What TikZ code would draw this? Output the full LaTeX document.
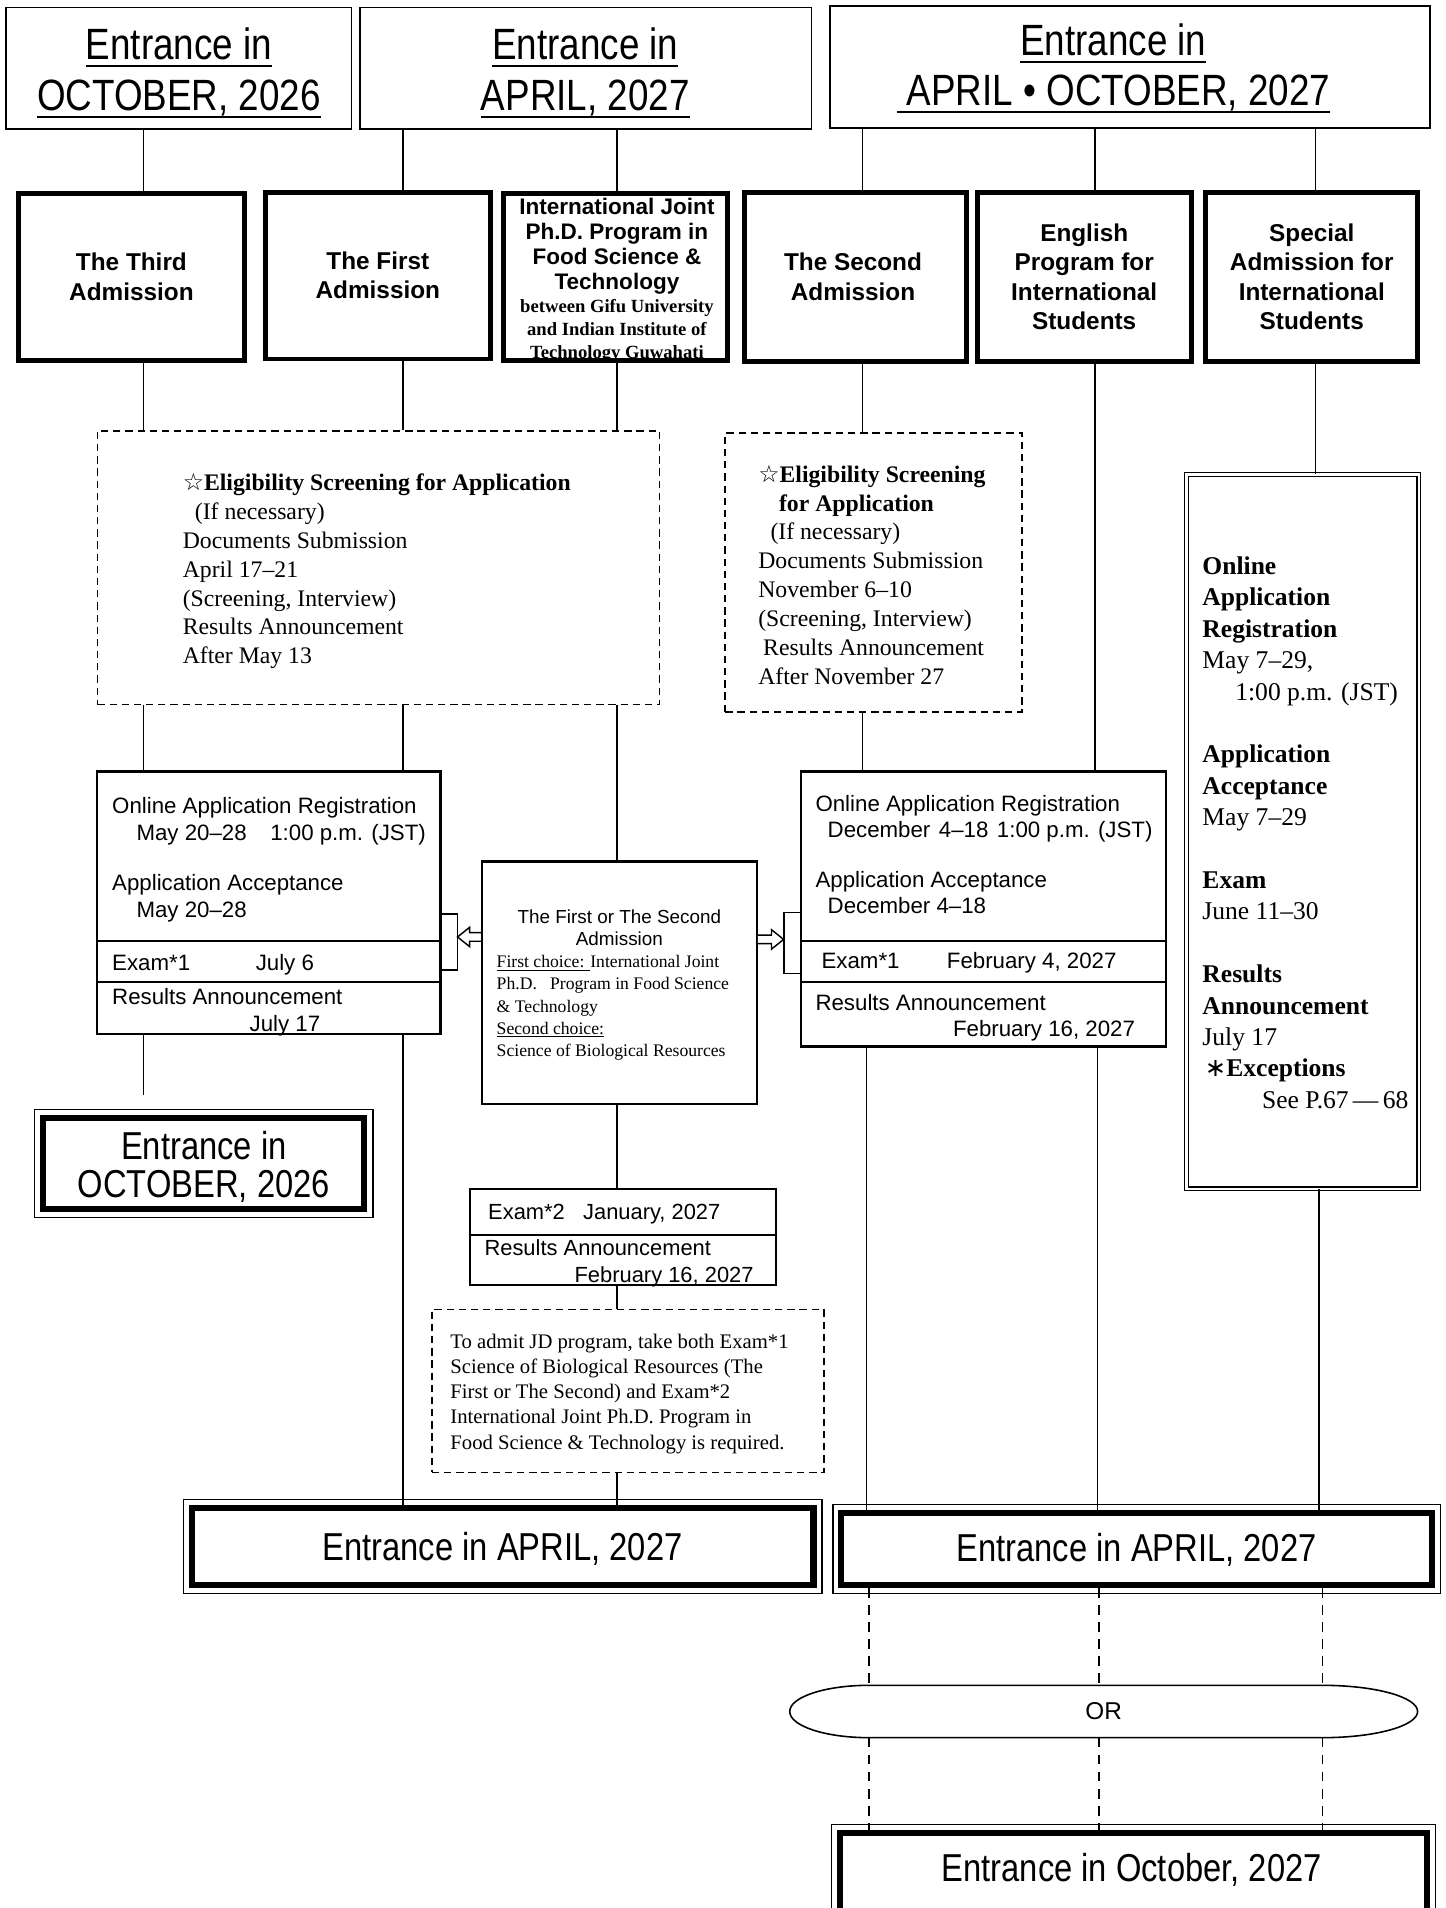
\documentclass[tikz,border=0pt]{standalone}
\usepackage{fontspec}
\setmainfont{Liberation Serif}
\newfontfamily\condf[FakeStretch=0.84]{Liberation Sans}
\newfontfamily\sansf{Liberation Sans}
\newfontfamily\symf{DejaVu Sans}
\usetikzlibrary{fit,calc}
\newcommand\fsz[2]{\fontsize{#1pt}{#2pt}\selectfont}
\newcommand\myhul[1]{\setbox0\hbox{#1}\rlap{\rule[-6pt]{\wd0}{1.6pt}}\box0}
\newcommand\mytul[1]{\setbox0\hbox{#1}\rlap{\rule[-2.6pt]{\wd0}{0.8pt}}\box0}
\begin{document}
\begin{tikzpicture}[x=1pt,y=-1pt,
 hdr/.style={draw,line width=1.3pt,inner sep=0pt},
 rowbox/.style={draw,line width=4pt,inner sep=0pt},
 rowtxt/.style={inner sep=0pt,align=center,font=\sansf\bfseries\fsz{20}{24}},
 dbox/.style={draw,line width=1.3pt,dash pattern=on 6pt off 4pt,inner sep=0pt},
 ibox/.style={draw,line width=1.8pt,inner sep=0pt},
 sbox/.style={draw,line width=0.9pt,double,double distance=2.2pt,inner sep=0pt},
 ent/.style={draw,line width=5pt,inner sep=0pt},
 enttxt/.style={inner sep=0pt,align=center,font=\condf\fsz{32}{31}},
 outerframe/.style={line width=1pt},
 conn/.style={line width=1.2pt},
 dconn/.style={line width=1.2pt,dash pattern=on 8pt off 6pt},
 divl/.style={line width=1.8pt},
 txt/.style={inner sep=0pt,align=left},
 htxt/.style={inner sep=0pt,align=center,font=\condf\fsz{36}{42}},
 ostxt/.style={inner sep=0pt,align=left,font=\sansf\fsz{18.3}{22}},
 arr/.style={line width=1.2pt,fill=white}
]
\useasboundingbox (0,0) rectangle (1188,1568);
\fill[white] (0,0) rectangle (1188,1568);

% column and row helper coordinates
\coordinate (c1) at (118,0);
\coordinate (c2) at (331,0);
\coordinate (c3) at (507,0);
\coordinate (c4) at (709,0);
\coordinate (c4b) at (712,0);
\coordinate (c4d) at (714,0);
\coordinate (c5) at (900,0);
\coordinate (c5b) at (902,0);
\coordinate (c5d) at (903,0);
\coordinate (c6) at (1081,0);
\coordinate (c6b) at (1084,0);
\coordinate (c6d) at (1087,0);
\coordinate (y773) at (0,773);
\coordinate (y807) at (0,807);
\coordinate (y1015) at (0,1015);
\coordinate (y751) at (0,751);
\coordinate (y797) at (0,797);
\coordinate (y750) at (0,750);
\coordinate (y800) at (0,800);

% headers
\node[hdr,fit={(5,6)(289,106)}] (h1) {};
\node[hdr,fit={(296,6)(667,106)}] (h2) {};
\node[hdr,fit={(682,5)(1175,105)}] (h3) {};
\node[htxt,anchor=north] (h1t) at (147,22.7) {\myhul{Entrance in}\\\myhul{OCTOBER, 2026}};
\node[htxt,anchor=north] (h2t) at (481,22.7) {\myhul{Entrance in}\\\myhul{APRIL, 2027}};
\node[htxt,anchor=north,font=\condf\fsz{36}{41}] (h3t) at (915,19.7) {\myhul{Entrance in}\\\myhul{\ APRIL • OCTOBER, 2027}};

% row 2
\node[rowbox,fit={(15,159)(201,296)}] (third) {};
\node[rowtxt] (thirdt) at (third.center) {The Third\\Admission};
\node[rowbox,fit={(218,158)(403,295)}] (first) {};
\node[rowtxt] (firstt) at (first.center) {The First\\Admission};
\node[rowbox,fit={(414,159)(598,296)}] (ij) {};
\node[txt,align=center,anchor=north,font=\sansf\bfseries\fsz{18.5}{20.3}] (ijt1) at (507,163) {International Joint\\Ph.D. Program in\\Food Science \&\\Technology};
\node[txt,align=center,anchor=north,font=\bfseries\fsz{15.3}{19.2}] (ijt2) at (507,245.5) {between Gifu University\\and Indian Institute of\\Technology Guwahati};
\node[rowbox,fit={(612,158)(794,297)}] (second) {};
\node[rowtxt] (secondt) at ($(second.center)+(-2,0)$) {The Second\\Admission};
\node[rowbox,fit={(803,158)(979,297)}] (english) {};
\node[rowtxt] (englisht) at (english.center) {English\\Program for\\International\\Students};
\node[rowbox,fit={(991,158)(1165,297)}] (special) {};
\node[rowtxt] (specialt) at (special.center) {Special\\Admission for\\International\\Students};

% dashed screening boxes
\node[dbox,fit={(80,354)(542,579)}] (ds1) {};
\node[txt,anchor=north west,font=\fsz{19.5}{23.7}] (ds1t) at (150,389) {{\bfseries{\symf ☆}Eligibility Screening for Application}\\\hspace*{10pt}(If necessary)\\Documents Submission\\April 17–21\\(Screening, Interview)\\Results Announcement\\After May 13};
\node[dbox,fit={(596,356)(840,585)}] (ds2) {};
\node[txt,anchor=north west,font=\fsz{19.5}{23.7}] (ds2t) at (623,382) {{\bfseries{\symf ☆}Eligibility Screening}\\\hspace*{17pt}{\bfseries for Application}\\\hspace*{10pt}(If necessary)\\Documents Submission\\November 6–10\\(Screening, Interview)\\\hspace*{4pt}Results Announcement\\After November 27};

% online box 1
\node[ibox,fit={(80,634)(362,850)}] (on1) {};
\draw[divl] (on1.west |- y773) -- (on1.east |- y773);
\draw[divl] (on1.west |- y807) -- (on1.east |- y807);
\node[ostxt,anchor=north west] (on1a) at (92,655.2) {Online Application Registration\\\hspace*{20pt}\makebox[110pt][l]{May 20–28}1:00 p.m. (JST)};
\node[ostxt,anchor=north west] (on1b) at (92,718.2) {Application Acceptance\\\hspace*{20pt}May 20–28};
\node[ostxt,anchor=base west] (on1c) at (92,797.6) {\makebox[118pt][l]{Exam*1}July 6};
\node[ostxt,anchor=north west] (on1d) at (92,812.2) {Results Announcement\\\hspace*{113pt}July 17};

% online box 2
\node[ibox,fit={(658,634)(958,860)}] (on2) {};
\draw[divl] (on2.west |- y773) -- (on2.east |- y773);
\draw[divl] (on2.west |- y807) -- (on2.east |- y807);
\node[ostxt,anchor=north west] (on2a) at (670,653.2) {Online Application Registration\\\hspace*{10pt}December\hspace{7pt}4–18\hspace{7pt}1:00 p.m. (JST)};
\node[ostxt,anchor=north west,font=\sansf\fsz{18.3}{21}] (on2b) at (670,716.2) {Application Acceptance\\\hspace*{10pt}December 4–18};
\node[ostxt,anchor=base west] (on2c) at (675,795.6) {\makebox[103pt][l]{Exam*1}February 4, 2027};
\node[ostxt,anchor=north west,font=\sansf\fsz{18.3}{21}] (on2d) at (670,817.2) {Results Announcement\\\hspace*{113pt}February 16, 2027};

% middle box
\node[ibox,fit={(396,708)(622,907)}] (mid) {};
\node[txt,align=center,anchor=north,font=\sansf\fsz{15.5}{18}] (midt1) at (509,747.3) {The First or The Second\\Admission};
\node[txt,anchor=north west,font=\fsz{14.5}{18.3}] (midt2) at (408,784.8) {\mytul{First choice: }International Joint\\Ph.D.~~~Program in Food Science\\\& Technology\\\mytul{Second choice:}\\Science of Biological Resources};

% exam 2
\node[ibox,fit={(386,977)(638,1056)}] (ex2) {};
\draw[divl] (ex2.west |- y1015) -- (ex2.east |- y1015);
\node[ostxt,anchor=base west,font=\sansf\fsz{18}{22}] (ex2a) at (401,1002.5) {Exam*2~~~January, 2027};
\node[ostxt,anchor=north west,font=\sansf\fsz{18}{22}] (ex2b) at (398,1018.3) {Results Announcement\\\hspace*{74pt}February 16, 2027};

% JD note
\node[dbox,fit={(355,1076)(677,1210)}] (jd) {};
\node[txt,anchor=north west,font=\fsz{17}{20.75}] (jdt) at (370,1095.9) {To admit JD program, take both Exam*1\\Science of Biological Resources (The\\First or The Second) and Exam*2\\International Joint Ph.D. Program in\\Food Science \& Technology is required.};

% special info box
\node[sbox,fit={(975,390)(1166,977)}] (spi) {};
\node[txt,anchor=north west,font=\fsz{21}{25.8}] (spit) at (988,457.4) {\textbf{Online}\\\textbf{Application}\\\textbf{Registration}\\May 7–29,\\\hspace*{27pt}1:00 p.m. (JST)\\[25.8pt]\textbf{Application}\\\textbf{Acceptance}\\May 7–29\\[25.8pt]\textbf{Exam}\\June 11–30\\[25.8pt]\textbf{Results}\\\textbf{Announcement}\\July 17\\\hspace*{2pt}{\bfseries{\symf\mdseries ∗}Exceptions}\\\hspace*{49pt}See P.67\,—\,68};

% entrance boxes
\node[ent,fit={(35.5,918.5)(299.5,993.5)}] (e1) {};
\node[enttxt] (e1t) at ($(e1.center)+(0,3)$) {Entrance in\\OCTOBER, 2026};
\node[ent,fit={(157.5,1239.5)(668.5,1302.5)}] (e2) {};
\node[enttxt] (e2t) at ($(e2.center)+(0,2)$) {Entrance in APRIL, 2027};
\node[ent,fit={(691.5,1243.5)(1176.5,1302.5)}] (e3) {};
\node[enttxt] (e3t) at ($(e3.center)+(0,1)$) {Entrance in APRIL, 2027};
\node[ent,fit={(690.5,1506.5)(1172.5,1640)}] (e4) {};
\node[enttxt] (e4t) at (930,1537) {Entrance in October, 2027};
\foreach \n in {e1,e2,e3,e4}
  \draw[outerframe] ([xshift=-4.5pt,yshift=4.5pt]\n.north west) rectangle ([xshift=4.5pt,yshift=-4.5pt]\n.south east);

% OR
\node[inner sep=0pt,font=\sansf\fsz{20}{20}] (ortxt) at (907,1406.5) {OR};
\coordinate (ortop) at (907,1385);
\coordinate (orbot) at (907,1428);
\draw[line width=1.3pt] (ortop -| c4d) -- (ortop -| c6d) arc[start angle=-90,end angle=90,x radius=78,y radius=21.5] -- (orbot -| c4d) arc[start angle=90,end angle=270,x radius=65,y radius=21.5] -- cycle;

% connectors
\draw[conn] (h1.south -| c1) -- (third.north -| c1);
\draw[conn] (h2.south -| c2) -- (first.north -| c2);
\draw[conn] (h2.south -| c3) -- (ij.north -| c3);
\draw[conn] (h3.south -| c4) -- (second.north -| c4);
\draw[conn] (h3.south -| c5) -- (english.north -| c5);
\draw[conn] (h3.south -| c6) -- (special.north -| c6);
\draw[conn] (third.south -| c1) -- (ds1.north -| c1);
\draw[conn] (first.south -| c2) -- (ds1.north -| c2);
\draw[conn] (ij.south -| c3) -- (ds1.north -| c3);
\draw[conn] (second.south -| c4) -- (ds2.north -| c4);
\draw[conn] (english.south -| c5) -- (on2.north -| c5);
\draw[conn] (special.south -| c6) -- (spi.north -| c6);
\draw[conn] (ds1.south -| c1) -- (on1.north -| c1);
\draw[conn] (ds1.south -| c2) -- (on1.north -| c2);
\draw[conn] (ds1.south -| c3) -- (mid.north -| c3);
\draw[conn] (ds2.south -| c4) -- (on2.north -| c4);
\draw[conn] (on1.south -| c1) -- ($(e1.north -| c1)+(0,-16)$);
\draw[conn] (on1.south -| c2) -- (e2.north -| c2);
\draw[conn] (mid.south -| c3) -- (ex2.north -| c3);
\draw[conn] (ex2.south -| c3) -- (jd.north -| c3);
\draw[conn] (jd.south -| c3) -- (e2.north -| c3);
\draw[conn] (on2.south -| c4b) -- (e3.north -| c4b);
\draw[conn] (on2.south -| c5b) -- (e3.north -| c5b);
\draw[conn] (spi.south -| c6b) -- (e3.north -| c6b);
\draw[dconn] (e3.south -| c4d) -- (ortop -| c4d);
\draw[dconn] (e3.south -| c5d) -- (ortop -| c5d);
\draw[dconn] (e3.south -| c6d) -- (ortop -| c6d);
\draw[dconn] (orbot -| c4d) -- (e4.north -| c4d);
\draw[dconn] (orbot -| c5d) -- (e4.north -| c5d);
\draw[dconn] (orbot -| c6d) -- (e4.north -| c6d);

% brackets and hollow arrows
\draw[conn] (on1.east |- y751) -- ++(13,0) |- (on1.east |- y797);
\draw[conn] (on2.west |- y750) -- ++(-13,0) |- (on2.west |- y800);
\draw[arr] (mid.west |- 0,766.5) -- (386,766.5) -- (386,762) -- (376,770) -- (386,778) -- (386,773.5) -- (mid.west |- 0,773.5);
\draw[arr] (mid.east |- 0,768.5) -- (634,768.5) -- (634,764) -- (644,772) -- (634,780) -- (634,775.5) -- (mid.east |- 0,775.5);
\end{tikzpicture}
\end{document}
